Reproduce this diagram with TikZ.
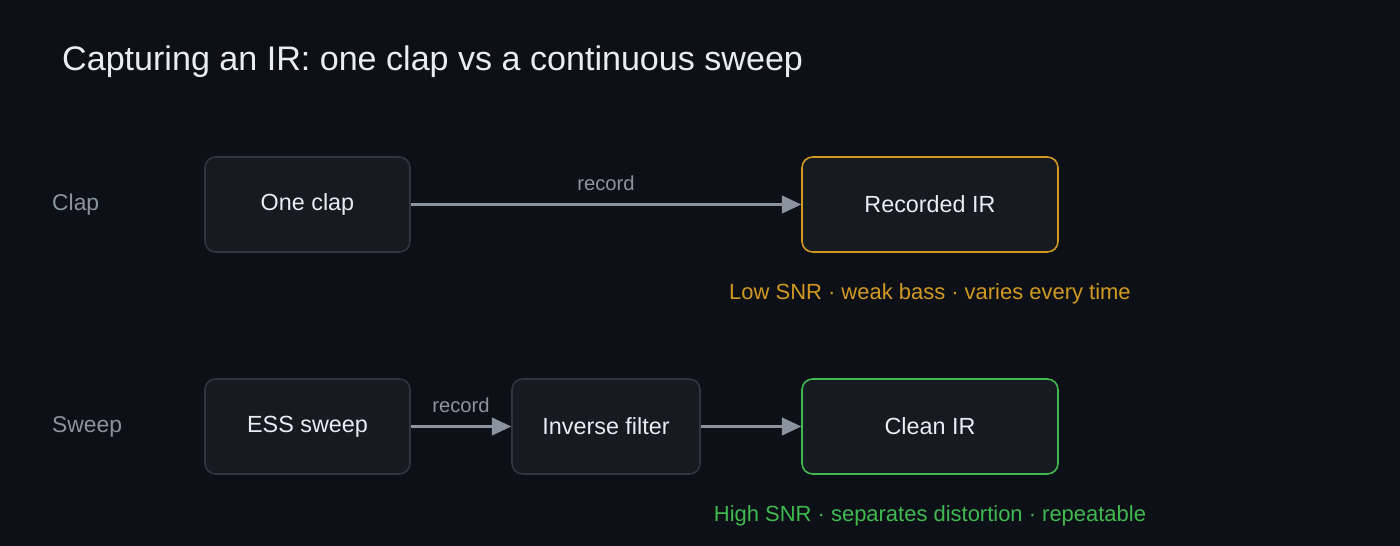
\documentclass[tikz,border=0pt]{standalone}
\usepackage{fontspec}
\setmainfont{Liberation Sans}
\usetikzlibrary{positioning,arrows.meta}
\definecolor{bgcol}{HTML}{0D1117}
\definecolor{boxfill}{HTML}{161B22}
\definecolor{boxline}{HTML}{30363D}
\definecolor{linecol}{HTML}{8B949E}
\definecolor{txtcol}{HTML}{E6EDF3}
\definecolor{warncol}{HTML}{D29922}
\definecolor{goodcol}{HTML}{3FB950}
\tikzset{
  stage/.style={draw=boxline, fill=boxfill, rounded corners=6pt, line width=0.9pt,
    minimum height=1.9cm, text=txtcol, font=\fontsize{13.3}{15}\selectfont},
  flow/.style={draw=linecol, line width=1.4pt, -{Triangle[length=11pt,width=10pt]}},
  lbl/.style={text=linecol, font=\fontsize{11.5}{13}\selectfont},
  rowlbl/.style={text=linecol, font=\fontsize{13}{15}\selectfont, anchor=west},
  note/.style={font=\fontsize{12.5}{14}\selectfont},
}
\begin{document}
\begin{tikzpicture}[x=0.02cm, y=-0.02cm]
  \fill[bgcol] (0,0) rectangle (1400,546);
  \useasboundingbox (0,0) rectangle (1400,546);

  \node[anchor=west, text=txtcol, font=\fontsize{19.4}{23}\selectfont] (title) at (56,62) {Capturing an IR: one clap vs a continuous sweep};

  % clap row
  \node[rowlbl] (claplbl) at (46,205) {Clap};
  \node[stage, minimum width=4.1cm] (clap) at (307.5,204.5) {One clap};
  \node[stage, minimum width=5.12cm, draw=warncol] (recir) at (930,204.5) {Recorded IR};
  \draw[flow] (clap) -- node[lbl, above=4pt] {record} (recir);
  \node[note, text=warncol] (clapnote) at (930,294) {Low SNR · weak bass · varies every time};

  % sweep row
  \node[rowlbl] (sweeplbl) at (46,427) {Sweep};
  \node[stage, minimum width=4.1cm] (ess) at (307.5,426.5) {ESS sweep};
  \node[stage, minimum width=3.76cm] (inv) at (606,426.5) {Inverse filter};
  \node[stage, minimum width=5.12cm, draw=goodcol] (clean) at (930,426.5) {Clean IR};
  \draw[flow] (ess) -- node[lbl, above=4pt] {record} (inv);
  \draw[flow] (inv) -- (clean);
  \node[note, text=goodcol] (sweepnote) at (930,516) {High SNR · separates distortion · repeatable};
\end{tikzpicture}
\end{document}
